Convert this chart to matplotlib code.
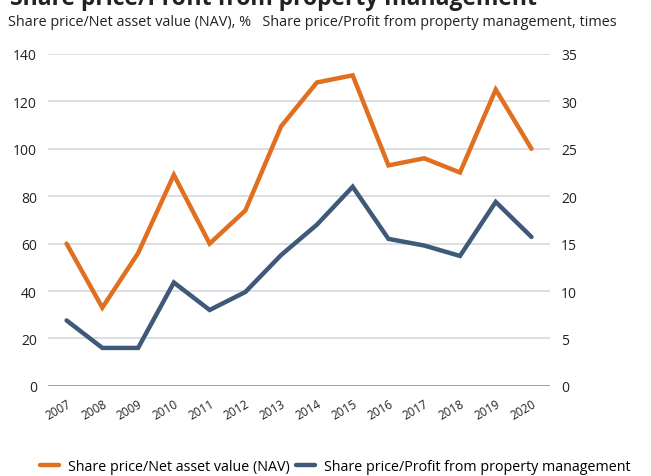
import matplotlib.pyplot as plt

plt.rcParams['font.family'] = ['Open Sans', 'DejaVu Sans']

# data
years = ['2007', '2008', '2009', '2010', '2011', '2012', '2013',
         '2014', '2015', '2016', '2017', '2018', '2019', '2020']
nav_ratio = [60, 33, 56, 89, 60, 74, 109.5, 128, 131, 93, 96, 90, 125, 100]
profit_ratio = [6.9, 4.0, 4.0, 10.9, 8.0, 9.9, 13.8, 17.0, 21.0, 15.5, 14.8, 13.7, 19.4, 15.7]

left_ticks = [0, 20, 40, 60, 80, 100, 120, 140]
right_ticks = [0, 5, 10, 15, 20, 25, 30, 35]

ORANGE = '#e0701f'
BLUE = '#3e5a78'

fig = plt.figure(figsize=(6.51, 4.77), dpi=100)
ax = fig.add_axes([0.0737, 0.189, 0.7713, 0.6957])
ax2 = ax.twinx()

x = list(range(len(years)))
l1, = ax.plot(x, nav_ratio, color=ORANGE, lw=3.2, solid_joinstyle='miter',
              solid_capstyle='round', label='Share price/Net asset value (NAV)', zorder=3)
l2, = ax2.plot(x, profit_ratio, color=BLUE, lw=3.2, solid_joinstyle='miter',
               solid_capstyle='round', label='Share price/Profit from property management', zorder=3)

ax.set_xlim(-0.52, 13.52)
ax.set_ylim(0, 140)
ax2.set_ylim(0, 35)
ax.set_yticks(left_ticks)
ax2.set_yticks(right_ticks)
ax.set_xticks(x)
ax.set_xticklabels(years, rotation=30, ha='right', rotation_mode='anchor', fontsize=8.5, color='#222222')

for t in left_ticks[1:]:
    ax.axhline(t, color='#d2d4d8', lw=1.1, zorder=1)
ax.axhline(0, color='#8c98a4', lw=1.3, zorder=2)

for a in (ax, ax2):
    for s in a.spines.values():
        s.set_visible(False)
    a.tick_params(axis='y', length=0, labelsize=10, colors='#222222')
ax.tick_params(axis='y', pad=8)
ax2.tick_params(axis='y', pad=8)
ax.tick_params(axis='x', length=0, pad=8)

fig.text(0.015, 1.003, 'Share price/Profit from property management', fontsize=16.5,
         fontweight='bold', color='#222222', va='center')
fig.text(0.012, 0.953, 'Share price/Net asset value (NAV), %   Share price/Profit from property management, times',
         fontsize=10.4, color='#222222', va='center')

fig.legend([l1, l2], [l1.get_label(), l2.get_label()], loc='center', bbox_to_anchor=(0.515, 0.019),
           ncol=2, frameon=False, fontsize=10.3, handlelength=1.3, handletextpad=0.6,
           columnspacing=0.5)

fig.savefig('out.png', dpi=100)
